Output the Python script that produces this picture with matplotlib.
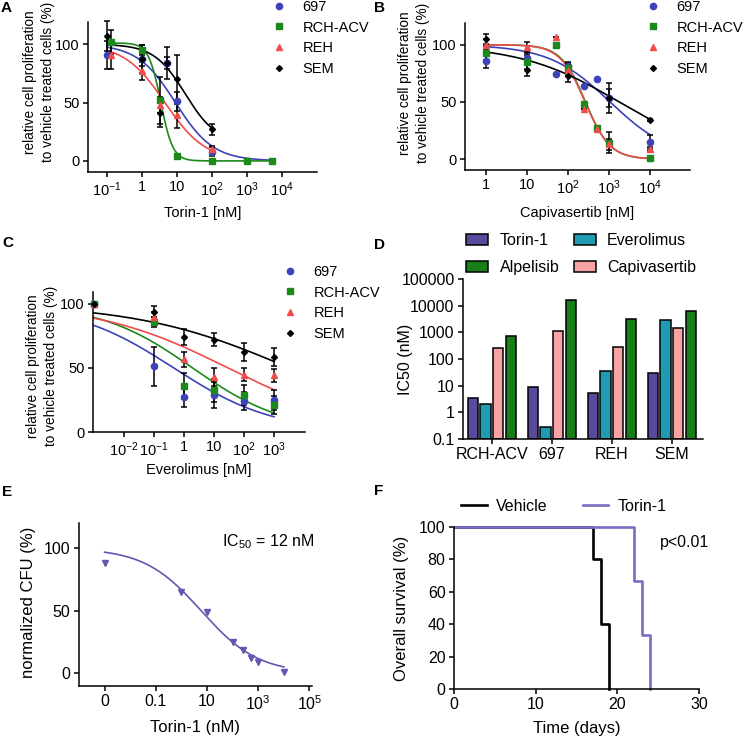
import numpy as np
import matplotlib
matplotlib.use('Agg')
import matplotlib.pyplot as plt
from matplotlib.ticker import FixedLocator, FixedFormatter, NullLocator
from matplotlib.lines import Line2D

plt.rcParams['font.family'] = ['Liberation Sans', 'DejaVu Sans']
plt.rcParams['mathtext.fontset'] = 'custom'
plt.rcParams['mathtext.rm'] = 'Liberation Sans'
plt.rcParams['mathtext.it'] = 'Liberation Sans:italic'
plt.rcParams['mathtext.bf'] = 'Liberation Sans:bold'
plt.rcParams['axes.linewidth'] = 1.1
plt.rcParams['xtick.major.width'] = 1.1
plt.rcParams['ytick.major.width'] = 1.1
plt.rcParams['xtick.major.size'] = 3.6
plt.rcParams['ytick.major.size'] = 3.6
plt.rcParams['xtick.major.pad'] = 2.5
plt.rcParams['ytick.major.pad'] = 2.5

# ---- data ----
cell_lines = ['697', 'RCH-ACV', 'REH', 'SEM']
line_colors = ['#3d42b8', '#1b8a1b', '#f04c4c', 'black']
line_markers = ['o', 's', '^', 'D']
marker_sizes = [4.5, 4.5, 4.5, 3]

# A: Torin-1 (conc nM, % proliferation, error), one list per cell line
a_conc = [[0.1, 1, 5, 10, 100],
          [0.125, 1, 3.3, 10, 100, 1000, 5000],
          [0.125, 1, 3.3, 10, 100],
          [0.1, 1, 3.3, 5, 10, 100]]
a_vals = [[90.6, 87, 84, 51, 8],
          [102, 95, 52, 4, 0, 0, 0],
          [91, 77, 48, 39, 10],
          [107, 87, 41, 84, 70, 27]]
a_errs = [[12, 6, 5, 8, 4],
          [10, 4, 20, 1, 1, 0, 0],
          [12, 8, 7, 11, 3],
          [13, 12, 12, 14, 21, 5]]
# fitted curves: top, bottom, logIC50, hill slope ; range of the fit
a_fit = [[100, 0, 0.95, 0.8], [101, 0, 0.53, 2.5], [100, 0, 0.65, 0.75], [100, 15, 1.23, 0.97]]
a_range = [[0.1, 5000], [0.1, 5000], [0.1, 100], [0.1, 100]]

# B: Capivasertib
b_conc = [[1, 10, 50, 100, 250, 500, 1000, 10000],
          [1, 10, 50, 100, 250, 500, 1000, 10000],
          [1, 10, 50, 100, 250, 500, 1000, 10000],
          [1, 10, 100, 1000, 10000]]
b_vals = [[85.5, 88, 74, 81, 64, 70, 53.6, 15],
          [92.8, 84.6, 100, 80, 48, 27.5, 14.5, 0.6],
          [100, 98, 107, 78, 43.5, 26, 13, 8.7],
          [105, 78, 72.5, 53.6, 34.2]]
b_errs = [[6, 5, 0, 4, 0, 0, 8, 6],
          [6, 6, 0, 4, 0, 0, 9, 1],
          [5, 4, 0, 5, 0, 0, 5, 2],
          [4, 5, 5, 13, 1]]
b_fit = [[100, 0, 3.03, 0.58], [100, 0, 2.43, 1.45], [100, 0, 2.42, 1.42], [100, 0, 3.25, 0.36]]
b_range = [[1, 10000]] * 4

# C: Everolimus (vehicle plotted at 1e-3)
c_conc = [[1e-3, 0.1, 1, 10, 100, 1000]] * 4
c_vals = [[100, 51, 27.4, 28.7, 24.3, 24.8],
          [100, 85.5, 36, 32.6, 28.7, 21.4],
          [100, 89.4, 56.6, 42.9, 44.7, 44.2],
          [100, 93.8, 73.9, 72, 62.3, 58.4]]
c_errs = [[0, 15, 8, 10, 7, 8],
          [0, 4, 10, 9, 8, 7],
          [0, 4, 6, 7, 5, 5],
          [0, 4, 6, 5, 7, 7]]
c_fit = [[100, 0, -0.35, 0.26], [100, 0, 0.28, 0.28], [100, 0, 1.45, 0.2], [100, 0, 3.5, 0.17]]
c_range = [[1e-3, 1000]] * 4

# D: IC50 (nM)
d_groups = ['RCH-ACV', '697', 'REH', 'SEM']
d_drugs = ['Torin-1', 'Everolimus', 'Capivasertib', 'Alpelisib']
d_colors = ['#5a4a9e', '#1f9bb4', '#f7a3a3', '#187f18']
ic50_torin = [3.5, 8.9, 5.5, 31]
ic50_everolimus = [2.0, 0.27, 35, 2800]
ic50_capivasertib = [265, 1120, 275, 1500]
ic50_alpelisib = [750, 17000, 3160, 6500]

# E: CFU assay (vehicle plotted at 1e-3)
e_conc = [1e-3, 1, 10, 100, 250, 500, 1000, 10000]
e_vals = [88, 65.3, 48.8, 24.8, 18.7, 12.5, 8.8, 1.3]
e_fit = [100, 0, 0.77, 0.39]
e_range = [1e-3, 1e4]

# F: survival
veh_days = [0, 17, 18, 19]
veh_surv = [100, 80, 40, 0]
tor_days = [0, 22, 23, 24]
tor_surv = [100, 66.7, 33.3, 0]

W, H = 746, 740


def fx(px):
    return px / W


def fy(py):
    return 1 - py / H


def box(l, t, r, b):
    return [fx(l), fy(b), (r - l) / W, (b - t) / H]


def hill(x, top, bottom, logc, h):
    return bottom + (top - bottom) / (1 + 10 ** ((np.log10(x) - logc) * h))


def clean(ax, fs):
    ax.spines['top'].set_visible(False)
    ax.spines['right'].set_visible(False)
    ax.tick_params(labelsize=fs, direction='out')
    ax.xaxis.set_minor_locator(NullLocator())
    ax.yaxis.set_minor_locator(NullLocator())


def dose_panel(ax, conc, vals, errs, fits, ranges):
    ax.set_xscale('log')
    for i in range(4):
        xs = np.logspace(np.log10(ranges[i][0]), np.log10(ranges[i][1]), 300)
        ax.plot(xs, hill(xs, *fits[i]), color=line_colors[i], lw=1.2, zorder=2)
        ax.errorbar(conc[i], vals[i], yerr=errs[i], fmt='none', ecolor='black',
                    elinewidth=1.1, capsize=2.5, capthick=1.1, zorder=3, clip_on=False)
        ax.plot(conc[i], vals[i], ls='none', marker=line_markers[i], ms=marker_sizes[i],
                color=line_colors[i], zorder=4, clip_on=False)


def dose_legend(left, top):
    handles = [Line2D([], [], ls='none', marker=line_markers[i], ms=marker_sizes[i],
                      color=line_colors[i]) for i in range(4)]
    fig.legend(handles, cell_lines, loc='upper left', bbox_to_anchor=(fx(left), fy(top)),
               frameon=False, fontsize=10.5, handlelength=1, handletextpad=1.1,
               labelspacing=0.45, borderpad=0, borderaxespad=0)


fig = plt.figure(figsize=(7.46, 7.40), dpi=100)
ylab = 'relative cell proliferation\nto vehicle treated cells (%)'

# ---- A ----
ax = fig.add_axes(box(88, 22, 317, 172))
dose_panel(ax, a_conc, a_vals, a_errs, a_fit, a_range)
ax.set_xlim(10 ** -1.55, 1e5)
ax.set_ylim(-9.5, 119)
ax.set_yticks([0, 50, 100])
ax.xaxis.set_major_locator(FixedLocator([0.1, 1, 10, 100, 1000, 10000]))
ax.xaxis.set_major_formatter(FixedFormatter([r'$10^{-1}$', '1', '10', r'$10^2$', r'$10^3$', r'$10^4$']))
clean(ax, 10.5)
ax.set_xlabel('Torin-1 [nM]', fontsize=10.5)
ax.xaxis.set_label_coords(0.5, -0.23)
ax.set_ylabel(ylab, fontsize=9.8, linespacing=1.35)
ax.yaxis.set_label_coords(-0.144, 0.6)
dose_legend(272, 0)

# ---- B ----
ax = fig.add_axes(box(465, 23, 690, 170))
dose_panel(ax, b_conc, b_vals, b_errs, b_fit, b_range)
ax.set_xlim(10 ** -0.51, 10 ** 4.98)
ax.set_ylim(-9.5, 119)
ax.set_yticks([0, 50, 100])
ax.xaxis.set_major_locator(FixedLocator([1, 10, 100, 1000, 10000]))
ax.xaxis.set_major_formatter(FixedFormatter(['1', '10', r'$10^2$', r'$10^3$', r'$10^4$']))
clean(ax, 10.5)
ax.set_xlabel('Capivasertib [nM]', fontsize=10.5)
ax.xaxis.set_label_coords(0.5, -0.245)
ax.set_ylabel(ylab, fontsize=9.8, linespacing=1.35)
ax.yaxis.set_label_coords(-0.156, 0.59)
dose_legend(646, 0)

# ---- C ----
ax = fig.add_axes(box(93, 292, 305, 432))
dose_panel(ax, c_conc, c_vals, c_errs, c_fit, c_range)
ax.set_xlim(10 ** -3.03, 10 ** 4.03)
ax.set_ylim(0, 109)
ax.set_yticks([0, 50, 100])
ax.xaxis.set_major_locator(FixedLocator([0.01, 0.1, 1, 10, 100, 1000]))
ax.xaxis.set_major_formatter(FixedFormatter([r'$10^{-2}$', r'$10^{-1}$', '1', '10', r'$10^2$', r'$10^3$']))
clean(ax, 10.5)
ax.set_xlabel('Everolimus [nM]', fontsize=10.5)
ax.xaxis.set_label_coords(0.5, -0.22)
ax.set_ylabel(ylab, fontsize=9.8, linespacing=1.35)
ax.yaxis.set_label_coords(-0.165, 0.47)
dose_legend(283, 265)

# ---- D ----
ax = fig.add_axes(box(463, 279, 703, 439))
ax.set_yscale('log')
xg = np.arange(len(d_groups))
step, bw = 0.21, 0.17
series = [ic50_torin, ic50_everolimus, ic50_capivasertib, ic50_alpelisib]
bars = []
for j, vals in enumerate(series):
    b = ax.bar(xg + (j - 1.5) * step, np.array(vals) - 0.1, bottom=0.1, width=bw,
               color=d_colors[j], edgecolor='black', linewidth=1.1, label=d_drugs[j])
    bars.append(b)
ax.set_ylim(0.1, 1e5)
ax.set_xlim(-0.48, 3.52)
ax.yaxis.set_major_locator(FixedLocator([0.1, 1, 10, 100, 1000, 10000, 100000]))
ax.yaxis.set_major_formatter(FixedFormatter(['0.1', '1', '10', '100', '1000', '10000', '100000']))
ax.set_xticks(xg)
ax.set_xticklabels(d_groups)
clean(ax, 11.5)
ax.set_ylabel('IC50 (nM)', fontsize=11.5)
ax.yaxis.set_label_coords(-0.21, 0.5)
# legend filled column-wise: Torin-1/Alpelisib, Everolimus/Capivasertib
order = [0, 3, 1, 2]
fig.legend([bars[k] for k in order], [d_drugs[k] for k in order], ncol=2,
           loc='upper left', bbox_to_anchor=(fx(466), fy(233)), frameon=False,
           fontsize=11.5, handlelength=1.4, handleheight=0.75, handletextpad=0.7,
           columnspacing=0.9, labelspacing=0.75, borderpad=0, borderaxespad=0)

# ---- E ----
ax = fig.add_axes(box(79, 523, 312, 686))
ax.set_xscale('log')
xs = np.logspace(np.log10(e_range[0]), np.log10(e_range[1]), 300)
ax.plot(xs, hill(xs, *e_fit), color='#6457b0', lw=1.2)
ax.plot(e_conc, e_vals, ls='none', marker='v', ms=5, color='#6457b0', clip_on=False)
ax.set_xlim(1e-4, 10 ** 5.1)
ax.set_ylim(-10, 120)
ax.set_yticks([0, 50, 100])
ax.xaxis.set_major_locator(FixedLocator([1e-3, 0.1, 10, 1000, 1e5]))
ax.xaxis.set_major_formatter(FixedFormatter(['0', '0.1', '10', r'$10^3$', r'$10^5$']))
clean(ax, 11.5)
ax.set_xlabel('Torin-1 (nM)', fontsize=12)
ax.xaxis.set_label_coords(0.5, -0.21)
ax.set_ylabel('normalized CFU (%)', fontsize=12)
ax.yaxis.set_label_coords(-0.185, 0.515)
ax.text(fx(222), fy(542), r'IC$_{50}$ = 12 nM', transform=fig.transFigure,
        fontsize=11.5, va='center', ha='left')

# ---- F ----
ax = fig.add_axes(box(454, 527, 699, 689))
h1, = ax.step(veh_days, veh_surv, where='post', color='black', lw=1.9, clip_on=False)
h2, = ax.step(tor_days, tor_surv, where='post', color='#7a6fc2', lw=1.9, clip_on=False)
ax.set_xlim(0, 30)
ax.set_ylim(0, 100)
ax.set_xticks([0, 10, 20, 30])
ax.set_yticks([0, 20, 40, 60, 80, 100])
clean(ax, 11.5)
ax.set_xlabel('Time (days)', fontsize=12)
ax.xaxis.set_label_coords(0.5, -0.2)
ax.set_ylabel('Overall survival (%)', fontsize=12)
ax.yaxis.set_label_coords(-0.184, 0.5)
fig.legend([h1, h2], ['Vehicle', 'Torin-1'], loc='upper left', bbox_to_anchor=(fx(461), fy(499)),
           ncol=2, frameon=False, fontsize=11.5, handlelength=1.6, handletextpad=0.6,
           columnspacing=2.2, borderpad=0, borderaxespad=0)
ax.text(fx(660), fy(542), 'p<0.01', transform=fig.transFigure, fontsize=11.5,
        va='center', ha='left')

# panel letters
for letter, (px, py) in zip('ABCDEF', [(1, 8), (374, 8), (2, 243), (374, 245), (2, 492), (374, 491)]):
    fig.text(fx(px), fy(py), letter, fontsize=11, fontweight='bold', va='center', ha='left')

fig.savefig('out.png', dpi=100)
